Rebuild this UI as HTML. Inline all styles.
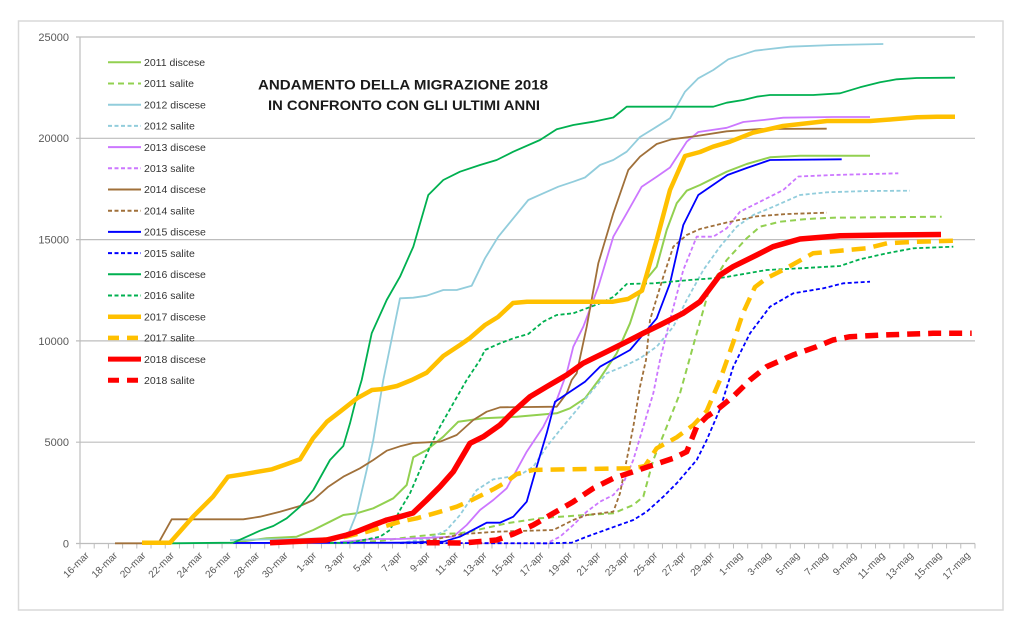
<!DOCTYPE html>
<html><head><meta charset="utf-8"><style>
html,body{margin:0;padding:0;background:#fff;}
svg{display:block;}
text{font-family:"Liberation Sans",sans-serif;}
</style></head><body>
<svg width="1024" height="630" viewBox="0 0 1024 630" xmlns="http://www.w3.org/2000/svg">
<rect x="0" y="0" width="1024" height="630" fill="#fff"/>
<rect x="18.5" y="21" width="984.5" height="589" fill="none" stroke="#d9d9d9" stroke-width="1.5"/>
<!-- gridlines -->
<g stroke="#bdbdbd" stroke-width="1.2">
<line x1="76" y1="37" x2="975" y2="37"/>
<line x1="76" y1="138.3" x2="975" y2="138.3"/>
<line x1="76" y1="239.6" x2="975" y2="239.6"/>
<line x1="76" y1="340.9" x2="975" y2="340.9"/>
<line x1="76" y1="442.2" x2="975" y2="442.2"/>
<line x1="76" y1="543.5" x2="975" y2="543.5"/>
<line x1="80" y1="37" x2="80" y2="543.5"/>
<line x1="79.5" y1="546" x2="976" y2="546" stroke-width="5" stroke-dasharray="1 13.206"/>
</g>
<!-- y labels -->
<g font-size="11" fill="#595959" text-anchor="end">
<text x="69" y="41">25000</text>
<text x="69" y="142">20000</text>
<text x="69" y="243.5">15000</text>
<text x="69" y="345">10000</text>
<text x="69" y="446">5000</text>
<text x="69" y="547.5">0</text>
</g>
<!-- x labels -->
<g font-size="10" fill="#595959" text-anchor="end">
<text transform="translate(89.6,556) rotate(-45)">16-mar</text>
<text transform="translate(118,556) rotate(-45)">18-mar</text>
<text transform="translate(146.4,556) rotate(-45)">20-mar</text>
<text transform="translate(174.8,556) rotate(-45)">22-mar</text>
<text transform="translate(203.3,556) rotate(-45)">24-mar</text>
<text transform="translate(231.7,556) rotate(-45)">26-mar</text>
<text transform="translate(260.1,556) rotate(-45)">28-mar</text>
<text transform="translate(288.5,556) rotate(-45)">30-mar</text>
<text transform="translate(317,556) rotate(-45)">1-apr</text>
<text transform="translate(345.4,556) rotate(-45)">3-apr</text>
<text transform="translate(373.8,556) rotate(-45)">5-apr</text>
<text transform="translate(402.2,556) rotate(-45)">7-apr</text>
<text transform="translate(430.6,556) rotate(-45)">9-apr</text>
<text transform="translate(459,556) rotate(-45)">11-apr</text>
<text transform="translate(487.4,556) rotate(-45)">13-apr</text>
<text transform="translate(515.9,556) rotate(-45)">15-apr</text>
<text transform="translate(544.3,556) rotate(-45)">17-apr</text>
<text transform="translate(572.7,556) rotate(-45)">19-apr</text>
<text transform="translate(601.1,556) rotate(-45)">21-apr</text>
<text transform="translate(629.5,556) rotate(-45)">23-apr</text>
<text transform="translate(658,556) rotate(-45)">25-apr</text>
<text transform="translate(686.4,556) rotate(-45)">27-apr</text>
<text transform="translate(714.8,556) rotate(-45)">29-apr</text>
<text transform="translate(743.2,556) rotate(-45)">1-mag</text>
<text transform="translate(771.6,556) rotate(-45)">3-mag</text>
<text transform="translate(800.1,556) rotate(-45)">5-mag</text>
<text transform="translate(828.5,556) rotate(-45)">7-mag</text>
<text transform="translate(856.9,556) rotate(-45)">9-mag</text>
<text transform="translate(885.3,556) rotate(-45)">11-mag</text>
<text transform="translate(913.7,556) rotate(-45)">13-mag</text>
<text transform="translate(942.2,556) rotate(-45)">15-mag</text>
<text transform="translate(970.6,556) rotate(-45)">17-mag</text>
</g>
<!-- title -->
<g font-size="14" font-weight="bold" fill="#1a1a1a">
<text x="258" y="89.5" textLength="290" lengthAdjust="spacingAndGlyphs">ANDAMENTO DELLA MIGRAZIONE  2018</text>
<text x="268" y="110" textLength="272" lengthAdjust="spacingAndGlyphs">IN CONFRONTO CON GLI ULTIMI ANNI</text>
</g>
<!-- series -->
<g fill="none" stroke-linejoin="round">
<polyline stroke="#92d050" stroke-width="2" points="230,543 266.7,538.3 296.7,536.7 313.3,530 330,521.7 343.3,515 356.7,513.3 373.3,508.3 393.3,498.3 406.7,485 413.3,457.3 426.7,450 443.3,436.7 458.3,421.7 483.3,418.3 516.7,416.7 556.7,413.3 570,408.3 585,398.3 600,378.3 616.7,353.3 630,323.3 643,283.3 656.7,266.7 666.7,230 676.7,203.3 686.7,190.7 700,185 726.7,171.7 746.7,164 770,157.3 800,155.7 870,155.7"/>
<polyline stroke="#92d050" stroke-width="2" stroke-dasharray="6 4" points="330,543 380,541 410,537 440,534 460,533.3 480,529.3 506.7,523.3 540,518.3 560,516.7 586.7,515 613.3,513.3 633.3,505 643.3,496.7 653.3,460 666.7,426.7 680,393.3 696.7,333.3 710,286.7 726.7,260 746.7,238.3 760,226.7 780,221.7 806.7,219 833,217.7 876.7,217.3 941.7,216.7"/>
<polyline stroke="#92cddc" stroke-width="1.8" points="230,540 346.7,538 356.7,513.3 366.7,470 373.3,440 383.3,380 400,298.3 413.3,297.7 426.7,295.7 443.3,290 456.7,290 471.7,285.7 485,258.3 498.3,236.7 513.3,218.3 528.3,200 543.3,193.3 558.3,186.7 573.3,181.7 585,177.5 600,165 613.3,160 626.7,151.7 640,137 656.7,126.7 670,118.3 685,91.7 698.3,78.3 713.3,70 728.3,59.3 755,50.7 790,46.7 833.3,45 883.3,44"/>
<polyline stroke="#92cddc" stroke-width="1.8" stroke-dasharray="4 2.5" points="400,543 430,538.3 446.7,530 460,515 476.7,490 493.3,479.3 510,476.7 520,475 533.3,466.7 546.7,446.7 560,430 576.7,410 590,393.3 606.7,373.3 626.7,365 640,358.3 656.7,346.7 673.3,326.7 686.7,300 703.3,270 720,246.7 736.7,226.7 753.3,215 773.3,206.7 800,195 826.7,192.3 866.7,191 910,190.7"/>
<polyline stroke="#cc77ff" stroke-width="1.8" points="340,542 373,539 400,539 453.3,536.7 466.7,525 480,510 493.3,500 506.7,488.3 526.7,451.7 543.3,426.7 556.7,400 566.7,373 573.3,346.7 583.3,326.7 598.3,286.7 613.3,236.7 626.7,213.3 641.7,186.7 656.7,176.7 670,167.5 686.7,141.7 698.3,132 726.7,127.8 743.3,122 763.3,120 783.3,117.7 833.3,117 870,117"/>
<polyline stroke="#cc77ff" stroke-width="1.8" stroke-dasharray="4 2.5" points="420,543 546.7,543.3 560,536.7 573.3,525 586.7,511.7 600,501.7 613.3,495 623.3,483.3 633.3,460 643.3,426.7 653.3,393.3 660,360 670,320 683.3,270 696.7,236.7 713.3,236.7 726.7,228.3 740,211.7 760,201.7 783.3,190 798.3,176.5 833.3,175 898.3,173.3"/>
<polyline stroke="#a0703a" stroke-width="1.8" points="115,543.3 158.3,543.3 171.7,519.3 243.3,519.3 260,516.7 280,511.7 300,506 313.3,500 328.3,486.7 343.3,476.7 360,468.3 373.3,460 386.7,450.7 400,446.3 413.3,443 440,441.7 456.7,435 473.3,420 486.7,411.7 500,407.3 556.7,406.7 566.7,393.3 571.7,380 576.7,373.3 586.7,326.7 598.3,263.3 613.3,213.3 628.3,170 640,156.7 656.7,144 671.7,139.3 696.7,136 726.7,131.3 760,129 826.7,128.7"/>
<polyline stroke="#a0703a" stroke-width="1.8" stroke-dasharray="4 2.5" points="420,542 463.3,534 496.7,531.7 553.3,530 573.3,520 586.7,515 613.3,511.7 620,493.3 633.3,426.7 640,386.7 646,360 650,320 663.3,276.7 673.3,246.7 686.7,235 700,229 726.7,222.5 756.7,216.3 786.7,214 826.7,212.7"/>
<polyline stroke="#0000ff" stroke-width="1.8" points="233,543 400,542.7 443.3,541.7 460,536.7 486.7,522.7 500,522.7 513.3,516.7 526.7,501.7 536.7,466.7 546.7,433.3 555,401.7 570,391.7 585,381.7 600,366.7 630,350 656.7,318.3 670,283.3 683.3,225 698.3,195 727.5,175 746.7,168 770,160 841.7,159.3"/>
<polyline stroke="#0000ff" stroke-width="1.8" stroke-dasharray="4 2.5" points="400,543 546.7,543.3 571.7,542.7 586.7,536.7 610,528.3 633.3,520 646.7,511.7 663.3,496.7 676.7,483.3 696.7,460 706.7,440 720,409 733.3,366.7 750,333.3 770,306.7 793.3,293.3 823.3,288.3 843.3,283.3 870,281.7"/>
<polyline stroke="#00b050" stroke-width="1.8" points="170,543.3 233.3,542.7 246.7,536.7 260,530.7 273.3,526 286.7,518.3 300,506.7 313.3,490 330,460 343.3,446 350,423.3 356.7,396.7 361.7,380 371.7,333.3 386.7,300 400,276.7 413.3,246.7 428.3,195 443.3,180 460,171.7 480,165 496.7,160 513.3,151.7 540,140 556.7,129.3 573.3,125 593.3,121.7 613.3,117.5 626.7,106.7 666.7,106.7 713.3,106.7 726.7,102.7 743.3,100 756.7,96.7 770,95 813.3,95 840,93.3 860,87.3 880,82.3 896.7,79.3 916.7,78 955,77.7"/>
<polyline stroke="#00b050" stroke-width="1.8" stroke-dasharray="4 2.5" points="330,543 350,542.7 380,536.7 390,530 400,510 410,493.3 420,470 430,446.7 440,426.7 453.3,403.3 466.7,380 480,360 485,350 500,343.3 513.3,338.3 528.3,334 543.3,321.7 556.7,315 573.3,313.3 586.7,308.3 600,303.3 613.3,297 626.7,284 653.3,283.3 690,280 723.3,277.5 766.7,270 800,268.3 840,266 860,259.3 886.7,253.3 913.3,248.3 953.3,246.7"/>
<polyline stroke="#ffc000" stroke-width="4.5" points="142,542.7 170,542.7 193,516.7 213,496.7 228,476.7 243,474.3 272,469.3 287,464 300,459.3 313,438.3 327,421.7 340,411.7 357,398.3 372,390 383,389 397,386 411.7,380 426.7,372.7 443.3,356 460,345 470,338 485,325 498,317 513,303 527,301.7 613,301.7 628,299 642,290.7 656.7,240 670,190 685,156 700,152 713,146.7 730,141.7 753,132.7 783,126 827,121 870,121 893,119.3 917,117.3 937,116.7 955,116.7"/>
<polyline stroke="#ffc000" stroke-width="4.5" stroke-dasharray="14 8" points="300,542 340,538 367,531.7 400,521.7 416.7,518.3 436.7,512.7 456.7,506.7 473.3,499.3 493.3,489.3 506.7,481.7 516.7,474 533.3,470 566.7,469.3 633.3,468.3 645,466 656.7,448.3 676.7,437.3 693.3,425 706.7,411 720,380 733,343 743,313 755,287 767,278 783,270 813,253.3 840,250.7 867,248.3 887,243.3 917,241.7 953,240.7"/>
<polyline stroke="#ff0000" stroke-width="5.5" points="270,542.7 326.7,540 346.7,535 356.7,531.7 373.3,525 386.7,520 400,516.7 413,513 426.7,500 440,486.7 453.3,471.7 470,443.3 483.3,436.7 500,425 513.3,411.7 530,396.7 546.7,386.7 566.7,375 583,363.3 606.7,351.7 626.7,341.7 643,333.3 660,325 683,313.3 700,301.7 720,275 733,266.7 756.7,255 773,246.7 800,239 840,235.7 887,235 941,234.5"/>
<polyline stroke="#ff0000" stroke-width="5.5" stroke-dasharray="13 8" points="426.7,542.7 463,543 496.7,540 513.3,534 533.3,525 553.3,513.3 573.3,501.7 593.3,488.3 613.3,478.3 633.3,471.7 653.3,465 673.3,458.3 686.7,451.7 696.7,426.7 706.7,416.7 716.7,410 733,396.7 750,380 766.7,366.7 793,355 816.7,346.7 833,340 850,336.7 883,335 933,333.3 971.7,333.3"/>
</g>
<!-- legend -->
<g fill="none">
<line x1="108" y1="62.3" x2="141" y2="62.3" stroke="#92d050" stroke-width="2"/>
<line x1="108" y1="83.5" x2="141" y2="83.5" stroke="#92d050" stroke-width="2" stroke-dasharray="6 4"/>
<line x1="108" y1="104.7" x2="141" y2="104.7" stroke="#92cddc" stroke-width="2"/>
<line x1="108" y1="125.9" x2="141" y2="125.9" stroke="#92cddc" stroke-width="2" stroke-dasharray="4 2.5"/>
<line x1="108" y1="147.1" x2="141" y2="147.1" stroke="#cc77ff" stroke-width="2"/>
<line x1="108" y1="168.3" x2="141" y2="168.3" stroke="#cc77ff" stroke-width="2" stroke-dasharray="4 2.5"/>
<line x1="108" y1="189.5" x2="141" y2="189.5" stroke="#a0703a" stroke-width="2"/>
<line x1="108" y1="210.7" x2="141" y2="210.7" stroke="#a0703a" stroke-width="2" stroke-dasharray="4 2.5"/>
<line x1="108" y1="231.9" x2="141" y2="231.9" stroke="#0000ff" stroke-width="2"/>
<line x1="108" y1="253.1" x2="141" y2="253.1" stroke="#0000ff" stroke-width="2" stroke-dasharray="4 2.5"/>
<line x1="108" y1="274.3" x2="141" y2="274.3" stroke="#00b050" stroke-width="2"/>
<line x1="108" y1="295.5" x2="141" y2="295.5" stroke="#00b050" stroke-width="2" stroke-dasharray="4 2.5"/>
<line x1="108" y1="316.7" x2="141" y2="316.7" stroke="#ffc000" stroke-width="4.5"/>
<line x1="108" y1="337.9" x2="141" y2="337.9" stroke="#ffc000" stroke-width="4.5" stroke-dasharray="11 8"/>
<line x1="108" y1="359.1" x2="141" y2="359.1" stroke="#ff0000" stroke-width="5"/>
<line x1="108" y1="380.3" x2="141" y2="380.3" stroke="#ff0000" stroke-width="5" stroke-dasharray="11 8"/>
</g>
<g font-size="10.5" fill="#333">
<text x="144" y="66">2011 discese</text>
<text x="144" y="87.2">2011 salite</text>
<text x="144" y="108.4">2012 discese</text>
<text x="144" y="129.6">2012 salite</text>
<text x="144" y="150.8">2013 discese</text>
<text x="144" y="172">2013 salite</text>
<text x="144" y="193.2">2014 discese</text>
<text x="144" y="214.4">2014 salite</text>
<text x="144" y="235.6">2015 discese</text>
<text x="144" y="256.8">2015 salite</text>
<text x="144" y="278">2016 discese</text>
<text x="144" y="299.2">2016 salite</text>
<text x="144" y="320.4">2017 discese</text>
<text x="144" y="341.6">2017 salite</text>
<text x="144" y="362.8">2018 discese</text>
<text x="144" y="384">2018 salite</text>
</g>
</svg>
</body></html>
